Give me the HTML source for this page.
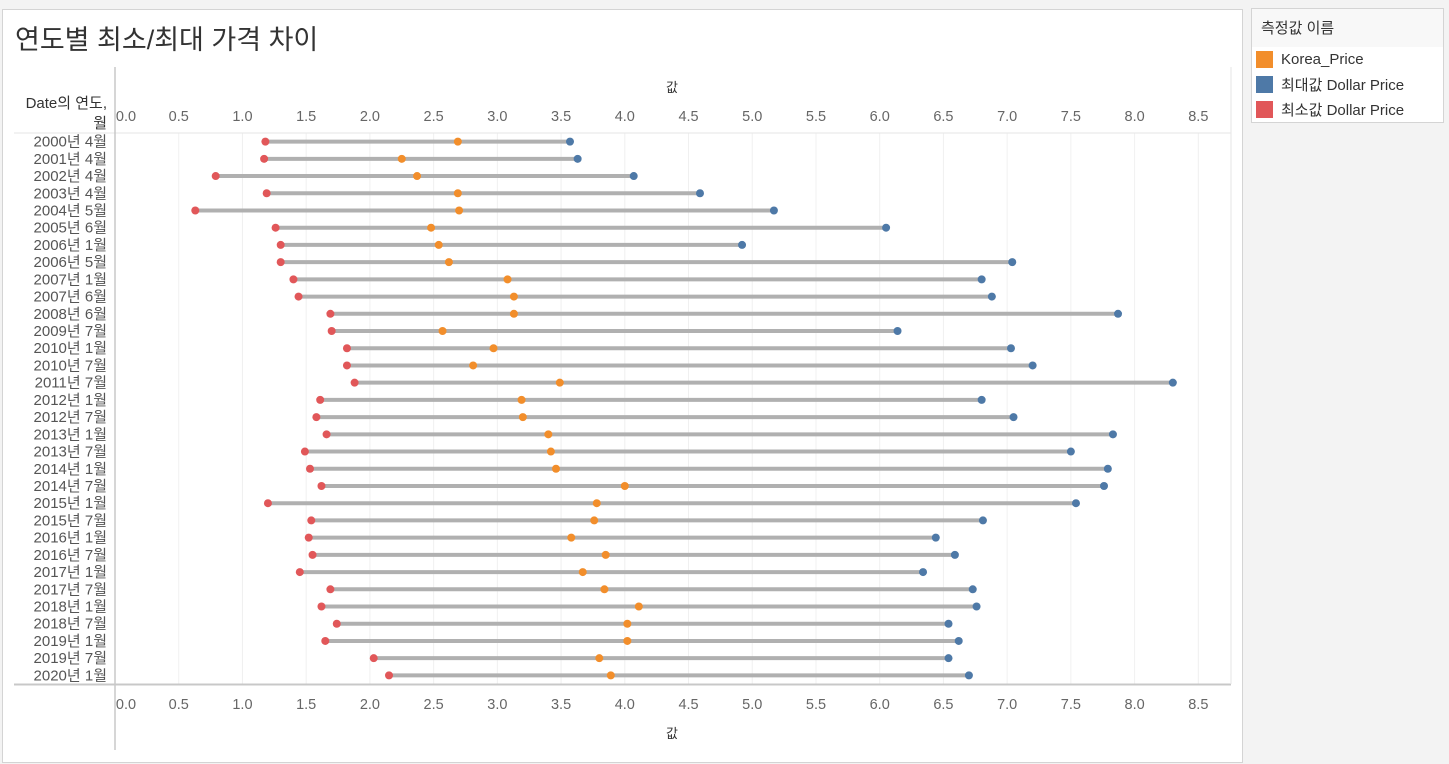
<!DOCTYPE html>
<html><head><meta charset="utf-8">
<style>
body{margin:0;width:1449px;height:764px;background:#f3f3f3;font-family:"Liberation Sans","Noto Sans CJK KR",sans-serif;overflow:hidden;position:relative}
#main{position:absolute;left:2px;top:9px;width:1239px;height:752px;background:#fff;border:1px solid #d4d4d4}
#legend{position:absolute;left:1251px;top:8px;width:191px;height:113px;background:#fff;border:1px solid #d4d4d4}
.lt{height:38px;background:#f8f8f8;font-size:15px;color:#333;padding-left:9px;line-height:40px}
.li{height:25px;font-size:15px;color:#333;display:flex;align-items:center;padding-left:4px}
.sw{width:17px;height:17px;margin-right:8px}
svg{position:absolute;left:0;top:0}
</style></head><body>
<div id="main"></div>
<div id="legend">
<div class="lt">측정값 이름</div>
<div class="li"><div class="sw" style="background:#f28e2b"></div>Korea_Price</div>
<div class="li"><div class="sw" style="background:#4e79a7"></div>최대값 Dollar Price</div>
<div class="li"><div class="sw" style="background:#e15759"></div>최소값 Dollar Price</div>
</div>
<svg id="chart" width="1449" height="764"></svg>
<script>
const categories=["2000년 4월","2001년 4월","2002년 4월","2003년 4월","2004년 5월","2005년 6월","2006년 1월","2006년 5월","2007년 1월","2007년 6월","2008년 6월","2009년 7월","2010년 1월","2010년 7월","2011년 7월","2012년 1월","2012년 7월","2013년 1월","2013년 7월","2014년 1월","2014년 7월","2015년 1월","2015년 7월","2016년 1월","2016년 7월","2017년 1월","2017년 7월","2018년 1월","2018년 7월","2019년 1월","2019년 7월","2020년 1월"];
const minPrice=[1.18,1.17,0.79,1.19,0.63,1.26,1.30,1.30,1.40,1.44,1.69,1.70,1.82,1.82,1.88,1.61,1.58,1.66,1.49,1.53,1.62,1.20,1.54,1.52,1.55,1.45,1.69,1.62,1.74,1.65,2.03,2.15];
const koreaPrice=[2.69,2.25,2.37,2.69,2.70,2.48,2.54,2.62,3.08,3.13,3.13,2.57,2.97,2.81,3.49,3.19,3.20,3.40,3.42,3.46,4.00,3.78,3.76,3.58,3.85,3.67,3.84,4.11,4.02,4.02,3.80,3.89];
const maxPrice=[3.57,3.63,4.07,4.59,5.17,6.05,4.92,7.04,6.80,6.88,7.87,6.14,7.03,7.20,8.30,6.80,7.05,7.83,7.50,7.79,7.76,7.54,6.81,6.44,6.59,6.34,6.73,6.76,6.54,6.62,6.54,6.70];
const ticks=["0.0","0.5","1.0","1.5","2.0","2.5","3.0","3.5","4.0","4.5","5.0","5.5","6.0","6.5","7.0","7.5","8.0","8.5"];
const svg=document.getElementById('chart');const NS='http://www.w3.org/2000/svg';
const X0=115,PX=127.45,TOP=133,BOT=684,RH=(BOT-TOP)/categories.length;
const x=v=>X0+v*PX, y=i=>TOP+RH*(i+0.5);
function mk(t,a,txt){const e=document.createElementNS(NS,t);for(const k in a)e.setAttribute(k,a[k]);if(txt!==undefined)e.textContent=txt;svg.appendChild(e);return e;}
let e;
e=mk('text',{x:15,y:49,'font-size':27,fill:'#333'},'연도별 최소/최대 가격 차이');


ticks.forEach((t,k)=>{const v=parseFloat(t);
 e=mk('line',{x1:x(v),x2:x(v),y1:TOP,y2:BOT,stroke:'#f0f0f0','stroke-width':1});
 
 
 const tx=k===0?x(v)+11:x(v);
 e=mk('text',{x:tx,y:121,'font-size':14.5,fill:'#666','text-anchor':'middle'},t);
 
 
 e=mk('text',{x:tx,y:709,'font-size':14.5,fill:'#666','text-anchor':'middle'},t);
 
 
});
e=mk('line',{x1:14,x2:1231,y1:TOP,y2:TOP,stroke:'#e6e6e6'});


e=mk('line',{x1:14,x2:1231,y1:BOT+0.5,y2:BOT+0.5,stroke:'#c8c8c8','stroke-width':2});


e=mk('line',{x1:1231,x2:1231,y1:67,y2:BOT,stroke:'#e6e6e6'});


e=mk('line',{x1:X0,x2:X0,y1:67,y2:750,stroke:'#c8c8c8','stroke-width':1.5});


e=mk('text',{x:672,y:92,'font-size':13,fill:'#333','text-anchor':'middle'},'값');


e=mk('text',{x:672,y:738,'font-size':13,fill:'#333','text-anchor':'middle'},'값');


e=mk('text',{x:107,y:108,'font-size':15,fill:'#333','text-anchor':'end'},'Date의 연도,');


e=mk('text',{x:107,y:128,'font-size':15,fill:'#333','text-anchor':'end'},'월');


categories.forEach((c,i)=>{const cy=y(i);
 e=mk('text',{x:107,y:cy+5,'font-size':15,fill:'#555','text-anchor':'end'},c);
 
 
 e=mk('line',{x1:x(minPrice[i]),x2:x(maxPrice[i]),y1:cy,y2:cy,stroke:'#b0b0b0','stroke-width':4});
 
 
 e=mk('circle',{cx:x(minPrice[i]),cy:cy,r:4,fill:'#e15759'});
 
 
 e=mk('circle',{cx:x(maxPrice[i]),cy:cy,r:4,fill:'#4e79a7'});
 
 
 e=mk('circle',{cx:x(koreaPrice[i]),cy:cy,r:4,fill:'#f28e2b'});
 
 
});
</script>
</body></html>
